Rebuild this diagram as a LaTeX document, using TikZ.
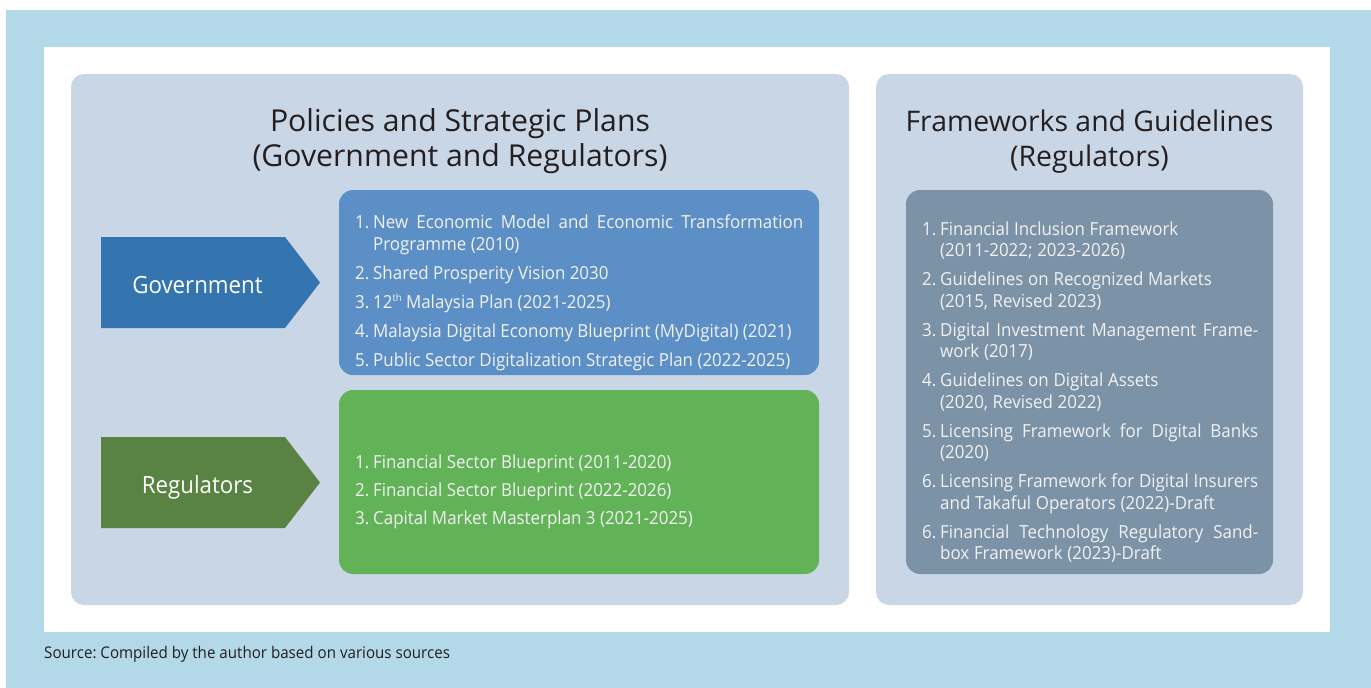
\documentclass[tikz,border=0pt]{standalone}
\usepackage{fontspec}
\setmainfont[FakeStretch=0.94]{Open Sans}
\newfontfamily\titlefont{Open Sans}
\frenchspacing
\definecolor{outerblue}{HTML}{B3D8E7}
\definecolor{panelc}{HTML}{C9D6E5}
\definecolor{bluebox}{HTML}{5B8FC5}
\definecolor{govarrow}{HTML}{3475B0}
\definecolor{greenbox}{HTML}{62B358}
\definecolor{regarrow}{HTML}{598343}
\definecolor{graybox}{HTML}{7C92A7}
\definecolor{darktext}{HTML}{231F20}
\definecolor{lighttext}{HTML}{F2F2F2}
\newcommand{\itm}[2]{\par\noindent\hangindent=18pt\hangafter=1\makebox[18pt][l]{#1}#2}
\newcommand{\supth}{\raisebox{6.5pt}{\fontsize{10}{10}\selectfont th}}
\tikzset{
  panel/.style={fill=panelc, rounded corners=13pt},
  listbox/.style={rounded corners=14pt},
  listtext/.style={anchor=north west, inner sep=0pt, text=lighttext, align=justify,
    font=\fontsize{18}{22}\selectfont},
  titletext/.style={anchor=base, inner sep=0pt, text=darktext, align=center,
    font=\titlefont\fontsize{30.2}{35}\selectfont},
  arrowtext/.style={anchor=base, inner sep=0pt, text=white,
    font=\fontsize{23.7}{28}\selectfont},
}
\begin{document}
\begin{tikzpicture}[x=1pt,y=-1pt]
\useasboundingbox (0,0) rectangle (1371,688);
\fill[outerblue] (6,10) rectangle (1371,688);
\fill[white] (44,47) rectangle (1330,632);
% panels
\fill[panel] (71,74) rectangle (849,605);
\fill[panel] (876,74) rectangle (1303,605);
% titles
\node[titletext] (t1) at (460,166) {Policies and Strategic Plans\\(Government and Regulators)};
\node[titletext, font=\titlefont\fontsize{28.4}{35}\selectfont] (t2) at (1089.5,166) {Frameworks and Guidelines\\(Regulators)};
% arrows
\fill[govarrow] (101,237) -- (285,237) -- (320,282.5) -- (285,328) -- (101,328) -- cycle;
\node[arrowtext] (gov) at (197.5,293) {Government};
\fill[regarrow] (101,437) -- (285,437) -- (320,482.5) -- (285,528) -- (101,528) -- cycle;
\node[arrowtext] (reg) at (197.5,493) {Regulators};
% boxes
\fill[listbox, bluebox] (339,190) rectangle (819,375);
\fill[listbox, greenbox] (339,390) rectangle (819,574);
\fill[listbox, graybox] (906,190) rectangle (1273,574);
\node[listtext, text width=448pt] (govlist) at (355,199) {%
\hyphenpenalty=10000 \parskip=7pt
\itm{1.}{\rule{0pt}{16pt}New Economic Model and Economic Transformation\linebreak Programme (2010)}
\itm{2.}{Shared Prosperity Vision 2030}
\itm{3.}{12\supth{} Malaysia Plan (2021-2025)}
\itm{4.}{Malaysia Digital Economy Blueprint (MyDigital) (2021)}
\itm{5.}{Public Sector Digitalization Strategic Plan (2022-2025)}\par};
\node[listtext, text width=448pt] (reglist) at (355,440) {%
\hyphenpenalty=10000 \parskip=6pt
\itm{1.}{\rule{0pt}{16pt}Financial Sector Blueprint (2011-2020)}
\itm{2.}{Financial Sector Blueprint (2022-2026)}
\itm{3.}{Capital Market Masterplan 3 (2021-2025)}\par};
\node[listtext, text width=336pt, font=\fontsize{18}{21.5}\selectfont] (fwlist) at (922,206) {%
\hyphenpenalty=10000 \parskip=7.5pt
\spaceskip=0.26em plus 0.3em minus 0.12em
\itm{1.}{\rule{0pt}{16pt}Financial Inclusion Framework\newline (2011-2022; 2023-2026)}
\itm{2.}{Guidelines on Recognized Markets\newline (2015, Revised 2023)}
\itm{3.}{Digital Investment Management Frame-\linebreak work (2017)}
\itm{4.}{Guidelines on Digital Assets\newline (2020, Revised 2022)}
\itm{5.}{Licensing Framework for Digital Banks\linebreak (2020)}
\itm{6.}{Licensing Framework for Digital Insurers\linebreak and Takaful Operators (2022)-Draft}
\itm{6.}{Financial Technology Regulatory Sand-\linebreak box Framework (2023)-Draft}\par};
% source
\node[anchor=base west, inner sep=0pt, text=darktext, font=\fontsize{16.1}{18}\selectfont] (src) at (44,658) {Source: Compiled by the author based on various sources};
\end{tikzpicture}
\end{document}
